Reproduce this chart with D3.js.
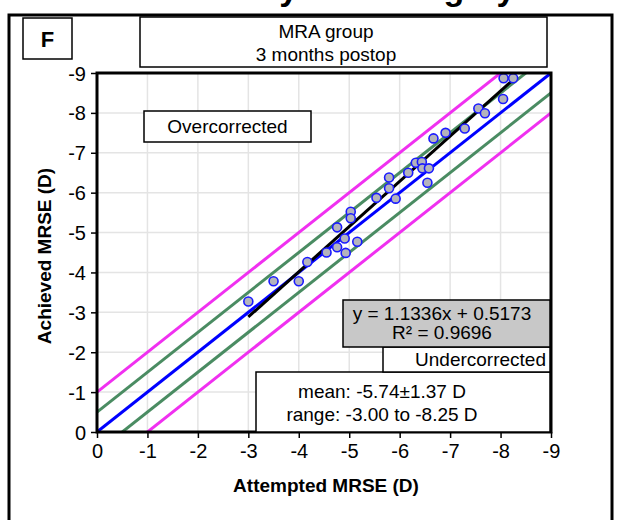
<!DOCTYPE html>
<html>
<head>
<meta charset="utf-8">
<script src="https://cdn.jsdelivr.net/npm/d3@7"></script>
<style>
  body { margin: 0; background: #fff; }
  text { font-family: "Liberation Sans", Arial, sans-serif; }
</style>
</head>
<body>
<div id="chart"></div>
<script>
// data (dioptres)
const attempted = [-3.00, -3.50, -4.00, -4.17, -4.55, -4.76, -4.93, -4.91, -5.16, -4.76,
                   -5.03, -5.03, -5.54, -5.92, -5.79, -5.79, -6.17, -6.32, -6.44, -6.45,
                   -6.58, -6.55, -6.67, -6.91, -7.29, -7.56, -7.69, -8.05, -8.06, -8.25];
const achieved  = [-3.27, -3.78, -3.78, -4.26, -4.50, -4.63, -4.49, -4.85, -4.77, -5.13,
                   -5.52, -5.36, -5.87, -5.85, -6.38, -6.11, -6.50, -6.75, -6.77, -6.61,
                   -6.61, -6.25, -7.36, -7.50, -7.61, -8.11, -7.99, -8.35, -8.87, -8.87];
const axisTicks = [0, -1, -2, -3, -4, -5, -6, -7, -8, -9];
const refOffsets = [-1, -0.5, 0, 0.5, 1];   // y = x + offset
const fitSlope = 1.1336, fitIntercept = 0.5173;
const fitRange = [-3.00, -8.25];
const eqLines = ["y = 1.1336x + 0.5173", "R² = 0.9696"];
const statLines = ["mean: -5.74±1.37 D", "range: -3.00 to -8.25 D"];

const width = 617, height = 520;
const margin = {top: 73, right: 66, bottom: 88, left: 97};

let svg = d3.select("#chart")
    .append("svg")
    .attr("width", width)
    .attr("height", height)
    .style("display", "block");

const x = d3.scaleLinear().domain([0, -9]).range([margin.left, width - margin.right]);
const y = d3.scaleLinear().domain([0, -9]).range([height - margin.bottom, margin.top]);

// figure title, cut off at the top of the picture
svg.append("text")
    .attr("x", 300).attr("y", 0)
    .attr("text-anchor", "middle")
    .style("font-size", "34px").style("font-weight", "bold")
    .text("Predictability after surgery");

// outer frame
svg.append("rect")
    .attr("x", 9).attr("y", 15).attr("width", 603).attr("height", 540)
    .attr("fill", "none").attr("stroke", "#000").attr("stroke-width", 3);

// gridlines
svg.append("g").selectAll("line")
    .data(axisTicks.slice(1, -1))
    .enter().append("line")
    .attr("x1", d => x(d)).attr("x2", d => x(d))
    .attr("y1", y(0)).attr("y2", y(-9))
    .attr("stroke", "#e4e4e4").attr("stroke-width", 1.5);
svg.append("g").selectAll("line")
    .data(axisTicks.slice(1, -1))
    .enter().append("line")
    .attr("x1", x(0)).attr("x2", x(-9))
    .attr("y1", d => y(d)).attr("y2", d => y(d))
    .attr("stroke", "#e4e4e4").attr("stroke-width", 1.5);

svg.append("clipPath").attr("id", "plotclip")
  .append("rect")
    .attr("x", x(0)).attr("y", y(-9))
    .attr("width", x(-9) - x(0)).attr("height", y(0) - y(-9));

const refColor = o => o === 0 ? "#0000ff" : (Math.abs(o) === 1 ? "#f030f0" : "#4a8c62");

// reference lines
svg.append("g").attr("clip-path", "url(#plotclip)")
  .selectAll("line")
    .data(refOffsets)
    .enter().append("line")
    .attr("x1", d => x(0)).attr("y1", d => y(0 + d))
    .attr("x2", d => x(-10)).attr("y2", d => y(-10 + d))
    .attr("stroke", d => refColor(d))
    .attr("stroke-width", 3);

// regression line
svg.append("line")
    .attr("x1", x(fitRange[0])).attr("y1", y(fitSlope * fitRange[0] + fitIntercept))
    .attr("x2", x(fitRange[1])).attr("y2", y(fitSlope * fitRange[1] + fitIntercept))
    .attr("stroke", "#000").attr("stroke-width", 3);

// points
svg.append("g").selectAll("circle")
    .data(attempted)
    .enter().append("circle")
    .attr("cx", d => x(d))
    .attr("cy", (d, i) => y(achieved[i]))
    .attr("r", 4.5)
    .attr("fill", "#b4b4bc")
    .attr("stroke", "#1a1aff")
    .attr("stroke-width", 1.6);

// axes (plain hyphen for the minus sign, as in the original)
const fmt = d => String(d);
let yAxis = svg.append("g")
    .attr("transform", "translate(" + x(0) + ",0)")
    .call(d3.axisLeft(y).tickValues(axisTicks).tickFormat(fmt).tickSize(6).tickPadding(5));
let xAxis = svg.append("g")
    .attr("transform", "translate(0," + y(0) + ")")
    .call(d3.axisBottom(x).tickValues(axisTicks).tickFormat(fmt).tickSize(6).tickPadding(6));
[yAxis, xAxis].forEach(a => {
  a.select(".domain").remove();
  a.selectAll("line").attr("stroke-width", 1.5);
  a.selectAll("text").style("font-size", "20px").attr("fill", "#000")
      .style("font-family", "'Liberation Sans', Arial, sans-serif");
});
yAxis.selectAll("text").attr("dy", "0.35em");

// plot border
svg.append("rect")
    .attr("x", x(0)).attr("y", y(-9))
    .attr("width", x(-9) - x(0)).attr("height", y(0) - y(-9))
    .attr("fill", "none").attr("stroke", "#000").attr("stroke-width", 3);

// axis titles
svg.append("text")
    .attr("x", 326).attr("y", 492)
    .attr("text-anchor", "middle")
    .style("font-size", "19px").style("font-weight", "bold")
    .text("Attempted MRSE (D)");
svg.append("text")
    .attr("transform", "translate(51,256) rotate(-90)")
    .attr("text-anchor", "middle")
    .style("font-size", "19px").style("font-weight", "bold")
    .text("Achieved MRSE (D)");

// boxes
function box(x0, y0, w, h, fill) {
  svg.append("rect")
    .attr("x", x0).attr("y", y0).attr("width", w).attr("height", h)
    .attr("fill", fill).attr("stroke", "#000").attr("stroke-width", 1.5);
}

box(23, 18, 49, 41, "#fff");
svg.append("text").attr("x", 47.5).attr("y", 47).attr("text-anchor", "middle")
    .style("font-size", "22px").style("font-weight", "bold").text("F");

box(140, 17, 407, 50, "#fff");
svg.append("text").attr("x", 326).attr("y", 38).attr("text-anchor", "middle")
    .style("font-size", "19px").text("MRA group");
svg.append("text").attr("x", 326).attr("y", 61).attr("text-anchor", "middle")
    .style("font-size", "19px").text("3 months postop");

box(144, 111, 167, 31, "#fff");
svg.append("text").attr("x", 227.5).attr("y", 133).attr("text-anchor", "middle")
    .style("font-size", "19px").text("Overcorrected");

box(256, 372, 294, 60, "#fff");
svg.selectAll(".stat")
    .data(statLines)
    .enter().append("text")
    .attr("class", "stat")
    .attr("x", 382).attr("y", (d, i) => 398 + i * 23)
    .attr("text-anchor", "middle")
    .style("font-size", "19px")
    .text(d => d);

box(383, 347, 167, 25, "#fff");
svg.append("text").attr("x", 546).attr("y", 366).attr("text-anchor", "end")
    .style("font-size", "19px").text("Undercorrected");

box(343, 300, 207, 47, "#c8c8c8");
svg.selectAll(".eq")
    .data(eqLines)
    .enter().append("text")
    .attr("class", "eq")
    .attr("x", 442).attr("y", (d, i) => 320 + i * 19)
    .attr("text-anchor", "middle")
    .style("font-size", "19px")
    .text(d => d);
</script>
</body>
</html>
